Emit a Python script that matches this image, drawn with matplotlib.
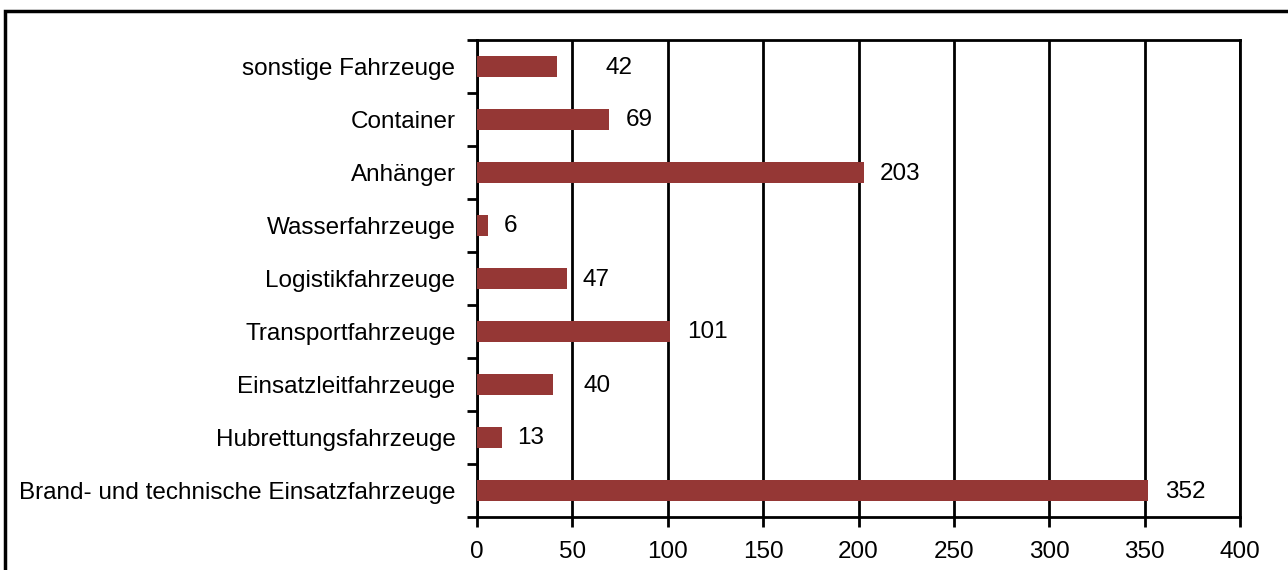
import matplotlib
matplotlib.use("Agg")
import matplotlib.pyplot as plt
from matplotlib.patches import Rectangle

plt.rcParams['font.family'] = ['Liberation Sans', 'DejaVu Sans']

categories = ["Brand- und technische Einsatzfahrzeuge", "Hubrettungsfahrzeuge",
              "Einsatzleitfahrzeuge", "Transportfahrzeuge", "Logistikfahrzeuge",
              "Wasserfahrzeuge", "Anhänger", "Container", "sonstige Fahrzeuge"]
values = [352, 13, 40, 101, 47, 6, 203, 69, 42]
# horizontal gap (px) between bar end and its label
label_gap = [17, 15, 30, 17, 16, 15, 16, 17, 48]

bar_color = "#953735"
fs = 17.5

fig = plt.figure(figsize=(12.88, 5.70), dpi=100)
ax = fig.add_axes([477/1288, 1 - 517/570, 763/1288, 477/570])

pos = list(range(len(categories)))
ax.barh(pos, values, height=0.4, color=bar_color, zorder=3)

ax.set_xlim(0, 400)
ax.set_ylim(-0.5, len(categories) - 0.5)
ax.set_xticks(range(0, 401, 50))
ax.xaxis.grid(True, color="black", linewidth=2, zorder=1)

ax.set_yticks(pos)
ax.set_yticklabels(categories)
ax.set_yticks([p - 0.5 for p in pos] + [len(pos) - 0.5], minor=True)
ax.tick_params(axis="y", which="major", length=0, pad=15.5, labelsize=fs)
ax.tick_params(axis="y", which="minor", length=7, width=2, direction="out")
ax.tick_params(axis="x", length=7, width=2, direction="out", labelsize=fs, pad=10)

for s in ax.spines.values():
    s.set_linewidth(2)
    s.set_color("black")

for p, v, g in zip(pos, values, label_gap):
    ax.annotate(str(v), (v, p), xytext=(g, -1), textcoords="offset pixels",
                ha="left", va="center", fontsize=fs)

# outer chart frame (only top/left sides visible)
fig.patches.append(Rectangle((5/1288, -0.5), 2, 1.5 - 11/570, transform=fig.transFigure,
                             fill=False, edgecolor="black", linewidth=2.5))

fig.savefig("out.png", dpi=100)
